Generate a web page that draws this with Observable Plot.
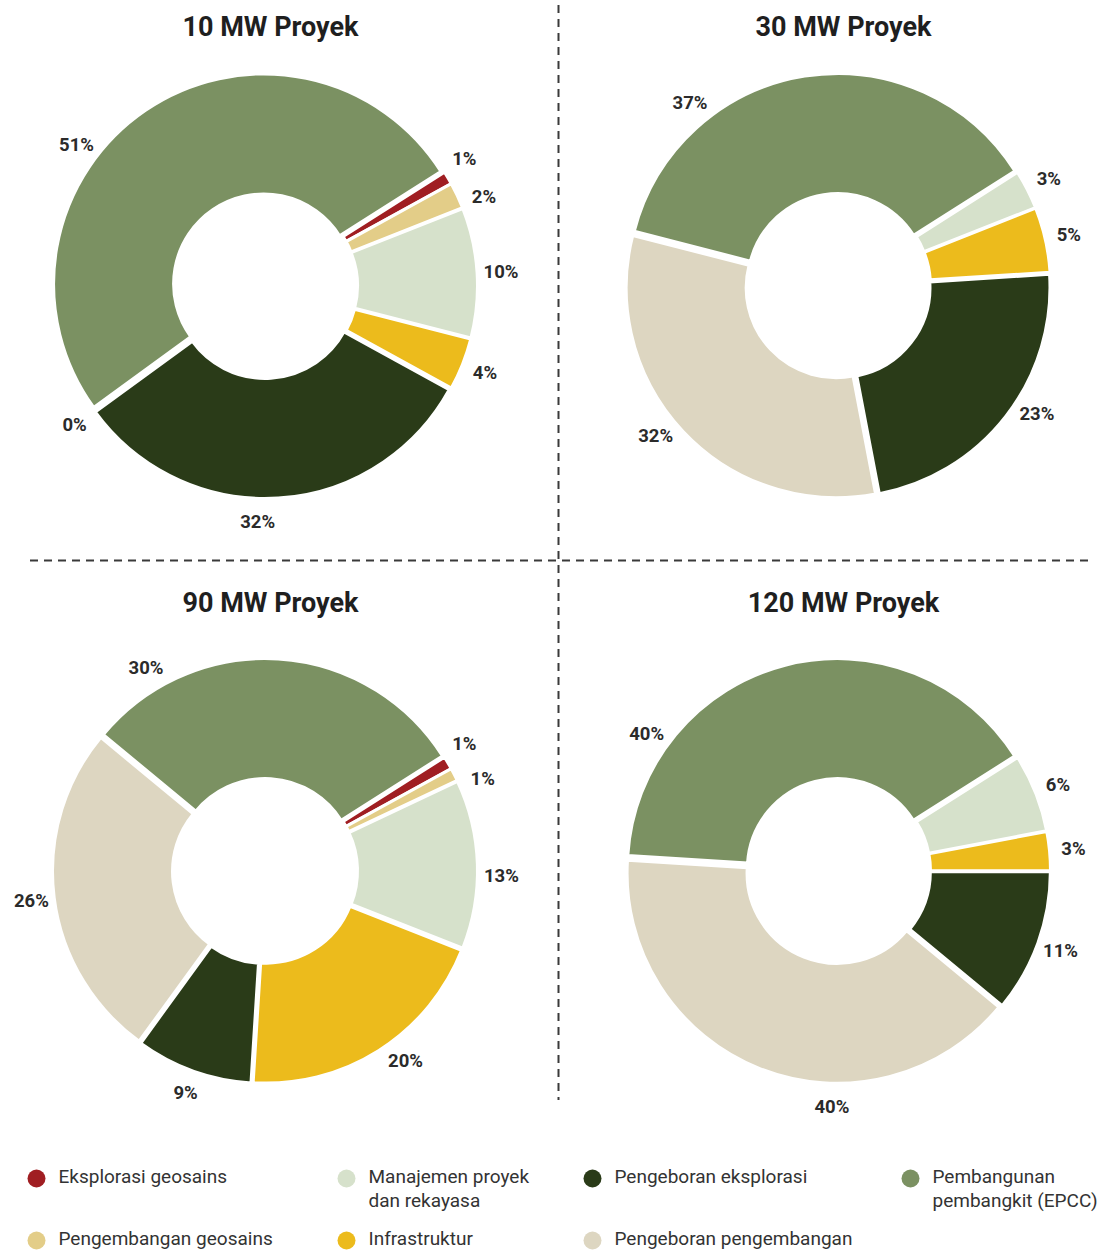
<!DOCTYPE html>
<html>
<head>
<meta charset="utf-8">
<script src="https://cdn.jsdelivr.net/npm/d3@7"></script>
<script src="https://cdn.jsdelivr.net/npm/@observablehq/plot@0.6"></script>
<style>
  html, body { margin: 0; padding: 0; background: #fff; }
  #chart svg { display: block; font-family: Roboto, "Noto Sans", sans-serif; }
</style>
</head>
<body>
<div id="chart"></div>
<script>
// ---------------- DATA ----------------
const categories = [
  "Eksplorasi geosains",
  "Pengembangan geosains",
  "Manajemen proyek dan rekayasa",
  "Infrastruktur",
  "Pengeboran eksplorasi",
  "Pengeboran pengembangan",
  "Pembangunan pembangkit (EPCC)"
];
const projects = ["10 MW Proyek", "30 MW Proyek", "90 MW Proyek", "120 MW Proyek"];
// share (%) per category, in the order of `categories`; null = not present in that project
const share10MW  = [1, 2, 10, 4, 32, 0, 51];
const share30MW  = [null, null, 3, 5, 23, 32, 37];
const share90MW  = [1, 1, 13, 20, 9, 26, 30];
const share120MW = [null, null, 6, 3, 11, 40, 40];
const legendLabels = [
  "Eksplorasi geosains",
  "Pengembangan geosains",
  "Manajemen proyek\ndan rekayasa",
  "Infrastruktur",
  "Pengeboran eksplorasi",
  "Pengeboran pengembangan",
  "Pembangunan\npembangkit (EPCC)"
];
const palette = ["#a01e22", "#e3cd88", "#d6e1cb", "#ecbb1c", "#2a3b18", "#ddd6c1", "#7b9162"];

// ---------------- LAYOUT ----------------
const W = 1105, H = 1252;
const shares = [share10MW, share30MW, share90MW, share120MW];
const centers = [[265, 286], [838, 286], [265, 871], [838, 871]];
const titleY = [27, 27, 603, 603];
const outerR = 210, innerR = 90, explode = 2.5, labelR = 236;
const startDeg = 57.6;
// label angle nudges (degrees) to keep labels where the original places them
const labelNudge = {
  "0|Pembangunan pembangkit (EPCC)": -19,
  "0|Pengeboran eksplorasi": 5.5,
  "0|Eksplorasi geosains": -2,
  "0|Pengembangan geosains": 3,
  "1|Pembangunan pembangkit (EPCC)": -30,
  "1|Pengeboran eksplorasi": -5,
  "1|Pengeboran pengembangan": 4,
  "2|Pembangunan pembangkit (EPCC)": -34,
  "2|Eksplorasi geosains": -2,
  "2|Pengembangan geosains": 4,
  "2|Manajemen proyek dan rekayasa": 3,
  "2|Infrastruktur": -4,
  "3|Pembangunan pembangkit (EPCC)": -40,
  "3|Pengeboran pengembangan": -20
};

const color = Plot.scale({color: {type: "ordinal", domain: categories, range: palette}});

// build slice table via d3.pie
const a0 = startDeg * Math.PI / 180;
const pie = d3.pie().sort(null).value(d => d.value ?? 0).startAngle(a0).endAngle(a0 + 2 * Math.PI);
const slices = [];
projects.forEach((p, i) => {
  const rows = categories.map((c, j) => ({project: p, panel: i, category: c, value: shares[i][j]}));
  pie(rows).forEach(a => {
    const d = a.data;
    const mid = (a.startAngle + a.endAngle) / 2;
    const nudge = (labelNudge[i + "|" + d.category] || 0) * Math.PI / 180;
    const la = mid + nudge;
    slices.push({
      ...d, startAngle: a.startAngle, endAngle: a.endAngle, mid,
      cx: centers[i][0], cy: centers[i][1],
      lx: centers[i][0] + labelR * Math.sin(la),
      ly: centers[i][1] - labelR * Math.cos(la)
    });
  });
});
const shown = slices.filter(d => d.value !== null);

const arc = d3.arc().innerRadius(innerR).outerRadius(outerR);

function donuts(index, scales) {
  const sx = (scales && scales.x) || (v => v);
  const sy = (scales && scales.y) || (v => v);
  const g = d3.create("svg:g");
  shown.filter(d => d.value > 0).forEach(d => {
    const ox = explode * Math.sin(d.mid), oy = -explode * Math.cos(d.mid);
    g.append("path")
      .attr("d", arc({startAngle: d.startAngle, endAngle: d.endAngle}))
      .attr("transform", `translate(${sx(d.cx) + ox},${sy(d.cy) + oy})`)
      .attr("fill", color.apply(d.category))
      .attr("stroke", "#fff")
      .attr("stroke-width", 3)
      .attr("stroke-linejoin", "round");
  });
  return g.node();
}

const legendItems = categories.map((c, j) => ({
  category: c,
  label: legendLabels[j],
  col: [0, 0, 1, 1, 2, 2, 3][j],
  row: [0, 1, 0, 1, 0, 1, 0][j]
}));
const legendDotX = [36, 346, 592, 910];
const legendRowY = [1178, 1240];

const chart = Plot.plot({
  width: W,
  height: H,
  margin: 0,
  x: {domain: [0, W], range: [0, W], axis: null},
  y: {domain: [0, H], range: [0, H], axis: null},
  style: {fontFamily: "Roboto, 'Noto Sans', sans-serif", background: "#fff"},
  marks: [
    Plot.ruleX([558], {y1: 5, y2: 1100, stroke: "#3a3a3a", strokeWidth: 2, strokeDasharray: "8,6"}),
    Plot.ruleY([560], {x1: 30, x2: 1088, stroke: "#3a3a3a", strokeWidth: 2, strokeDasharray: "8,6"}),
    donuts,
    Plot.text(projects, {
      x: (d, i) => centers[i][0] + 5,
      y: (d, i) => titleY[i],
      text: d => d,
      fontSize: 27, fontWeight: 700, fill: "#1f1f1f"
    }),
    Plot.text(shown, {
      x: "lx", y: "ly",
      text: d => d.value + "%",
      fontSize: 18.5, fontWeight: 700, fill: "#2b2b2b"
    }),
    Plot.dot(legendItems, {
      x: d => legendDotX[d.col],
      y: d => legendRowY[d.row],
      r: 9, fill: d => color.apply(d.category), stroke: null
    }),
    Plot.text(legendItems, {
      x: d => legendDotX[d.col] + 22,
      y: d => legendRowY[d.row] - 12.5,
      text: "label",
      textAnchor: "start", lineAnchor: "top", lineHeight: 1.27,
      fontSize: 19, fill: "#333"
    })
  ]
});
document.getElementById("chart").appendChild(chart);
</script>
</body>
</html>
